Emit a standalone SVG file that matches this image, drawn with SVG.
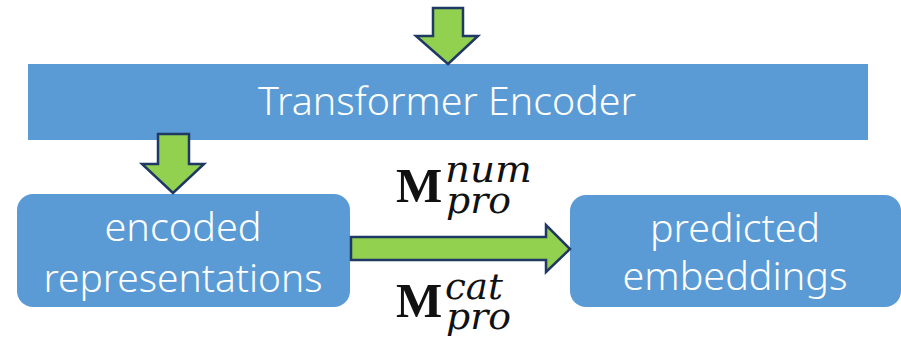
<svg xmlns="http://www.w3.org/2000/svg" width="901" height="343" viewBox="0 0 901 343">
<style>
.box{fill:#5B9BD5}
.lbl{font-family:"Noto Sans","Open Sans",sans-serif;font-weight:300;fill:#fff;text-anchor:middle}
.arr{fill:#92D050;stroke:#1F3864;stroke-width:2.5;stroke-linejoin:miter}
.m{fill:#111}
.mb{font-family:"Liberation Serif",serif;font-weight:bold;font-size:49px}
.mi{font-family:"DejaVu Serif",serif;font-style:italic;font-size:35px}
</style>
<rect width="901" height="343" fill="#fff"/>
<g id="encoder">
<rect class="box" x="28" y="64" width="840" height="76"/>
<text class="lbl" x="447" y="115" font-size="38" textLength="378" lengthAdjust="spacingAndGlyphs">Transformer Encoder</text>
</g>
<g id="encoded">
<rect class="box" x="17" y="194" width="333" height="113" rx="16"/>
<text class="lbl" x="183" y="241" font-size="39" textLength="157" lengthAdjust="spacingAndGlyphs">encoded</text>
<text class="lbl" x="183" y="292" font-size="39" textLength="279" lengthAdjust="spacingAndGlyphs">representations</text>
</g>
<g id="predicted">
<rect class="box" x="570" y="195" width="331" height="112" rx="16"/>
<text class="lbl" x="735" y="242" font-size="39" textLength="170" lengthAdjust="spacingAndGlyphs">predicted</text>
<text class="lbl" x="735" y="290" font-size="39" textLength="225" lengthAdjust="spacingAndGlyphs">embeddings</text>
</g>
<g id="connectors">
<polygon class="arr" points="433,8 463,8 463,36 478,36 448,64 416,36 433,36"/>
<polygon class="arr" points="158,134 189,134 189,164 204,164 173,193 142,164 158,164"/>
<polygon class="arr" points="351,237 546,237 546,225 570,249 546,272 546,260 351,260"/>
</g>
<g id="labels">
<text class="m"><tspan class="mb" x="396" y="202">M</tspan><tspan class="mi" x="445" y="182" textLength="87" lengthAdjust="spacingAndGlyphs">num</tspan><tspan class="mi" x="446" y="213" textLength="65" lengthAdjust="spacingAndGlyphs">pro</tspan></text>
<text class="m"><tspan class="mb" x="396" y="317">M</tspan><tspan class="mi" x="445" y="299" textLength="58" lengthAdjust="spacingAndGlyphs">cat</tspan><tspan class="mi" x="446" y="329" textLength="65" lengthAdjust="spacingAndGlyphs">pro</tspan></text>
</g>
</svg>
